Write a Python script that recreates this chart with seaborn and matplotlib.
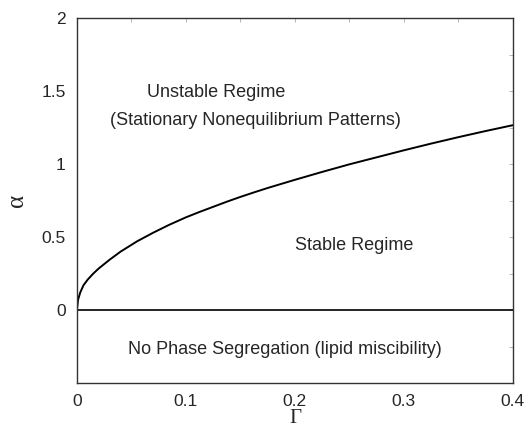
import matplotlib
matplotlib.use('Agg')
import matplotlib.pyplot as plt
from matplotlib.ticker import MultipleLocator
import numpy as np
import pandas as pd
import seaborn as sns

sns.set_style("white")
plt.rcParams['font.family'] = ['Liberation Sans', 'DejaVu Sans']

# stability boundary
gamma = [0, 0.001, 0.003, 0.006, 0.01, 0.015, 0.02, 0.03, 0.04, 0.055, 0.07,
         0.085, 0.1, 0.1125, 0.125, 0.1375, 0.15, 0.1625, 0.175, 0.1875, 0.2,
         0.2125, 0.225, 0.2375, 0.25, 0.2625, 0.275, 0.2875, 0.3, 0.3125,
         0.325, 0.3375, 0.35, 0.3625, 0.375, 0.3875, 0.4]
alpha = [0, 0.07, 0.12, 0.17, 0.21, 0.25, 0.285, 0.345, 0.40, 0.47, 0.53,
         0.585, 0.635, 0.672, 0.707, 0.742, 0.775, 0.806, 0.836, 0.864, 0.892,
         0.919, 0.946, 0.972, 0.998, 1.022, 1.046, 1.07, 1.094, 1.117,
         1.14, 1.162, 1.184, 1.205, 1.226, 1.246, 1.266]
df = pd.DataFrame({'gamma': gamma, 'alpha': alpha})

fig = plt.figure(figsize=(5.27, 4.29), dpi=100)
ax = fig.add_axes([0.146, 0.107, 0.827, 0.851])

sns.lineplot(data=df, x='gamma', y='alpha', color='black', lw=1.4, ax=ax)
ax.axhline(0, color='black', lw=1.2)

ax.set_xlim(0, 0.4)
ax.set_ylim(-0.5, 2)
ax.set_xticks([0, 0.1, 0.2, 0.3, 0.4])
ax.set_xticklabels(['0', '0.1', '0.2', '0.3', '0.4'])
ax.xaxis.set_minor_locator(MultipleLocator(0.05))
ax.set_yticks([0, 0.5, 1, 1.5, 2])
ax.set_yticklabels(['0', '0.5', '1', '1.5', '2'])
ax.yaxis.set_minor_locator(MultipleLocator(0.25))
ax.tick_params(which='both', direction='in', length=3, width=0.6,
               color='#aaaaaa', top=True, right=True, labelsize=12.5, pad=8)

for s in ax.spines.values():
    s.set_color('#333333')
    s.set_linewidth(1.0)

ax.set_xlabel('Γ', family='Liberation Serif', fontsize=15)
ax.xaxis.set_label_coords(0.502, -0.072)
ax.set_ylabel('α', family='Liberation Serif', fontsize=18, labelpad=10)

ax.text(0.128, 1.49, 'Unstable Regime', ha='center', va='center', fontsize=13)
ax.text(0.164, 1.30, '(Stationary Nonequilibrium Patterns)', ha='center', va='center', fontsize=13)
ax.text(0.254, 0.445, 'Stable Regime', ha='center', va='center', fontsize=13)
ax.text(0.191, -0.27, 'No Phase Segregation (lipid miscibility)', ha='center', va='center', fontsize=13)

fig.savefig('out.png', dpi=100)
